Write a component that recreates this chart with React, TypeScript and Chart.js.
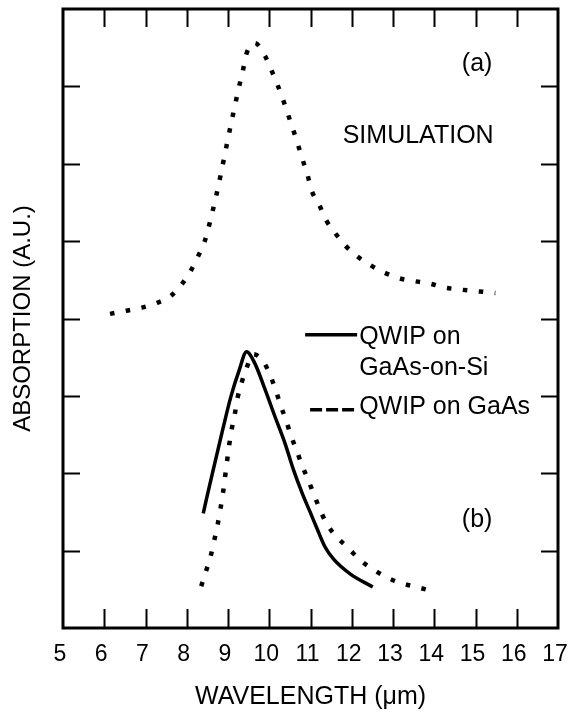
import { useEffect, useRef } from "react";
import { Chart, registerables } from "chart.js";

Chart.register(...registerables);

// (a) simulated absorption spectrum
const simWavelength = [
  6.14, 6.53, 6.91, 7.27, 7.61, 7.89, 8.1, 8.28, 8.43, 8.54, 8.72, 8.82, 8.93, 9.06,
  9.27, 9.36, 9.44, 9.65, 9.9, 10.06, 10.2, 10.34, 10.46, 10.58, 10.7, 10.81, 10.93,
  11.03, 11.21, 11.38, 11.59, 11.83, 12.14, 12.45, 12.76, 13.15, 13.55, 13.9, 14.25,
  14.69, 15.09, 15.48,
];
const simAbsorption = [
  4.06, 4.1, 4.14, 4.2, 4.29, 4.45, 4.62, 4.81, 4.99, 5.2, 5.6, 5.85, 6.14, 6.48,
  7.0, 7.2, 7.41, 7.56, 7.39, 7.2, 7.02, 6.82, 6.63, 6.44, 6.24, 6.05, 5.85,
  5.65, 5.47, 5.27, 5.11, 4.95, 4.8, 4.69, 4.6, 4.52, 4.48, 4.45, 4.4,
  4.37, 4.35, 4.33,
];

// (b) measured: QWIP on GaAs-on-Si
const siWavelength = [
  8.4, 8.47, 8.68, 8.87, 9.07, 9.27, 9.45, 9.65, 9.9, 10.14, 10.38, 10.59, 10.8,
  10.99, 11.17, 11.35, 11.56, 11.96, 12.51,
];
const siAbsorption = [
  1.48, 1.65, 2.13, 2.56, 2.99, 3.33, 3.57, 3.42, 3.08, 2.73, 2.39, 2.04, 1.74,
  1.5, 1.27, 1.05, 0.89, 0.7, 0.53,
];

// (b) measured: QWIP on GaAs
const gaasWavelength = [
  8.35, 8.47, 8.58, 8.67, 8.75, 8.82, 8.88, 8.93, 9.03, 9.09, 9.17, 9.23, 9.33, 9.45,
  9.61, 9.86, 10.02, 10.16, 10.28, 10.41, 10.53, 10.66, 10.79, 10.93, 11.08, 11.23,
  11.39, 11.63, 11.92, 12.2, 12.51, 12.83, 13.19, 13.57, 13.93,
];
const gaasAbsorption = [
  0.54, 0.74, 0.93, 1.14, 1.34, 1.55, 1.75, 1.96, 2.37, 2.57, 2.78, 2.97, 3.17, 3.36,
  3.54, 3.44, 3.27, 3.07, 2.87, 2.68, 2.48, 2.3, 2.11, 1.93, 1.73, 1.53,
  1.35, 1.18, 1.03, 0.88, 0.76, 0.66, 0.58, 0.53, 0.48,
];

const xRange = [5, 17];
const yRange = [0, 8];

const FONT = '"Liberation Sans", Arial, Helvetica, sans-serif';
const INK = "#000";
const DOTS = [4.5, 11.5];
const SOLID_WIDTH = 3.5;

const toPoints = (xs: number[], ys: number[]) => xs.map((x, i) => ({ x, y: ys[i] }));

// Frame with inward ticks, panel labels and the hand-placed key
const framePlugin = {
  id: "frameAndNotes",
  afterDatasetsDraw(chart: any) {
    const { ctx, chartArea: a, scales } = chart;
    const xs = scales.x;
    const ys = scales.y;
    ctx.save();
    ctx.strokeStyle = INK;
    ctx.fillStyle = INK;

    // inward tick marks on all four sides
    ctx.lineWidth = 2;
    ctx.beginPath();
    xs.ticks.forEach((t: any) => {
      if (t.value <= xRange[0] || t.value >= xRange[1]) return;
      const px = Math.round(xs.getPixelForValue(t.value)) + 0.5;
      ctx.moveTo(px, a.bottom);
      ctx.lineTo(px, a.bottom - 19);
      ctx.moveTo(px, a.top);
      ctx.lineTo(px, a.top + 18);
    });
    ys.ticks.forEach((t: any) => {
      if (t.value <= yRange[0] || t.value >= yRange[1]) return;
      const py = Math.round(ys.getPixelForValue(t.value)) + 0.5;
      ctx.moveTo(a.left, py);
      ctx.lineTo(a.left + 17, py);
      ctx.moveTo(a.right, py);
      ctx.lineTo(a.right - 17, py);
    });
    ctx.stroke();

    // frame
    ctx.lineWidth = 3;
    ctx.strokeRect(a.left, a.top, a.right - a.left, a.bottom - a.top);

    // panel notes
    ctx.font = `25px ${FONT}`;
    ctx.textAlign = "center";
    ctx.textBaseline = "middle";
    ctx.fillText("(a)", xs.getPixelForValue(15.04), ys.getPixelForValue(7.29));
    ctx.fillText("SIMULATION", xs.getPixelForValue(13.61), ys.getPixelForValue(6.36));
    ctx.fillText("(b)", xs.getPixelForValue(15.04), ys.getPixelForValue(1.4));

    // key
    ctx.textAlign = "left";
    const textX = xs.getPixelForValue(12.18);
    ctx.lineWidth = SOLID_WIDTH;
    ctx.setLineDash([]);
    ctx.beginPath();
    ctx.moveTo(xs.getPixelForValue(10.87), ys.getPixelForValue(3.79));
    ctx.lineTo(xs.getPixelForValue(12.13), ys.getPixelForValue(3.79));
    ctx.stroke();
    ctx.fillText("QWIP on", textX, ys.getPixelForValue(3.76));
    ctx.fillText("GaAs-on-Si", textX, ys.getPixelForValue(3.36));

    ctx.setLineDash([12, 4]);
    ctx.beginPath();
    ctx.moveTo(xs.getPixelForValue(10.99), ys.getPixelForValue(2.82));
    ctx.lineTo(xs.getPixelForValue(12.13), ys.getPixelForValue(2.82));
    ctx.stroke();
    ctx.setLineDash([]);
    ctx.fillText("QWIP on GaAs", textX, ys.getPixelForValue(2.86));
    ctx.restore();
  },
};

export default function App() {
  const canvasRef = useRef<HTMLCanvasElement | null>(null);

  useEffect(() => {
    if (!canvasRef.current) return;
    const curve = (xs: number[], ys: number[], dashed: boolean) => ({
      data: toPoints(xs, ys),
      showLine: true,
      borderColor: INK,
      borderWidth: dashed ? 4.5 : SOLID_WIDTH,
      borderDash: dashed ? DOTS : [],
      borderCapStyle: "butt" as const,
      cubicInterpolationMode: "monotone" as const,
      pointRadius: 0,
      fill: false,
    });

    const chart = new Chart(canvasRef.current, {
      type: "scatter",
      data: {
        datasets: [
          curve(simWavelength, simAbsorption, true),
          curve(siWavelength, siAbsorption, false),
          curve(gaasWavelength, gaasAbsorption, true),
        ],
      },
      options: {
        animation: false,
        responsive: false,
        events: [],
        layout: { padding: { top: 9, right: 10, bottom: 0, left: 0 } },
        plugins: { legend: { display: false }, tooltip: { enabled: false } },
        scales: {
          x: {
            type: "linear",
            min: xRange[0],
            max: xRange[1],
            ticks: {
              stepSize: 1,
              autoSkip: false,
              maxRotation: 0,
              padding: 13,
              labelOffset: -3,
              color: INK,
              font: { family: FONT, size: 23 },
            },
            grid: { display: false, drawTicks: false },
            border: { display: false },
            title: {
              display: true,
              text: "WAVELENGTH (μm)",
              color: INK,
              font: { family: FONT, size: 25 },
              padding: 0,
            },
            afterFit: (s: any) => {
              s.height = 84;
              s.paddingLeft = 0;
              s.paddingRight = 0;
            },
          },
          y: {
            type: "linear",
            min: yRange[0],
            max: yRange[1],
            ticks: { display: false, stepSize: 1 },
            grid: { display: false, drawTicks: false },
            border: { display: false },
            title: {
              display: true,
              text: "ABSORPTION (A.U.)",
              color: INK,
              font: { family: FONT, size: 24 },
              padding: { top: 9, bottom: 0 },
            },
            afterFit: (s: any) => {
              s.width = 63;
            },
          },
        },
      } as any,
      plugins: [framePlugin],
    });
    return () => chart.destroy();
  }, []);

  return (
    <div style={{ position: "fixed", left: 0, top: 0, width: 568, height: 712, background: "#fff" }}>
      <canvas ref={canvasRef} width={568} height={712} style={{ display: "block" }} />
    </div>
  );
}
